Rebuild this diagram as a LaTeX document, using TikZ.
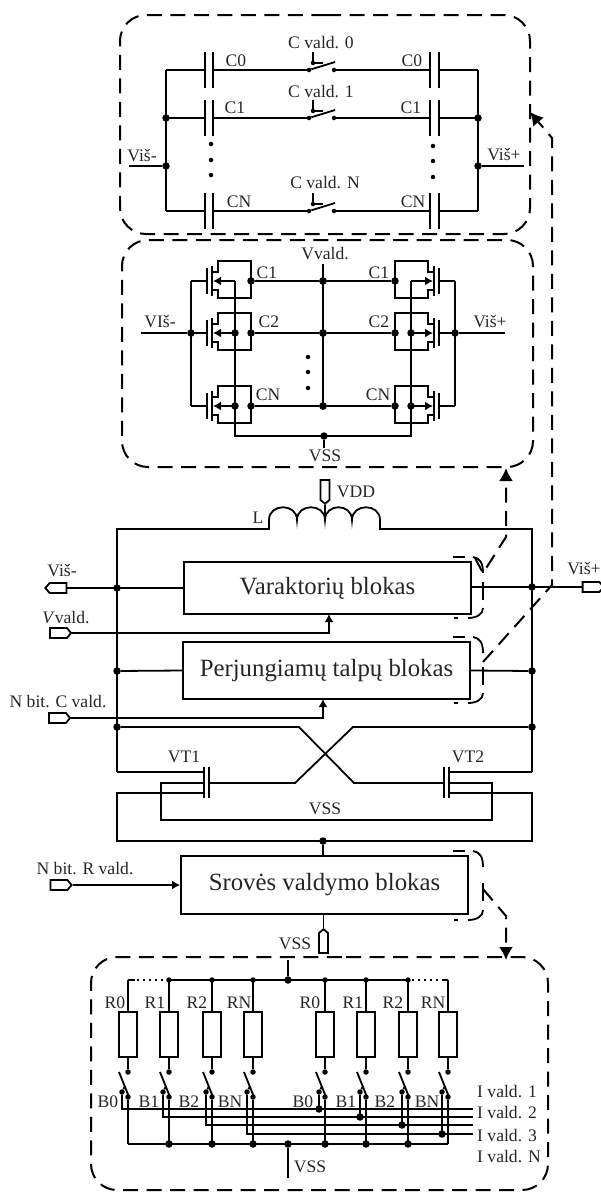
\documentclass[tikz,border=0pt]{standalone}
\usepackage{fontspec}
\setmainfont{Liberation Serif}
\usetikzlibrary{arrows.meta,shapes.symbols}
\tikzset{
  wire/.style={line width=1.8pt},
  dashline/.style={line width=2pt,dash pattern=on 15pt off 8.5pt},
  kabute/.style={line width=1.8pt},
  dot/.style={circle,fill=black,inner sep=0pt,minimum size=7.5pt},
  smalldot/.style={circle,fill=black,inner sep=0pt,minimum size=4.5pt},
  lbl/.style={inner sep=0pt,text=black!85,font=\fontsize{17.6}{18}\selectfont},
  blok/.style={draw,line width=1.8pt,inner sep=0pt,text=black!85,font=\fontsize{24.8}{26}\selectfont},
  port/.style={draw,line width=1.8pt,shape=signal,inner sep=0pt,minimum width=21pt,minimum height=10pt,signal pointer angle=100},
  vport/.style={draw,line width=1.8pt,shape=signal,inner sep=0pt,minimum width=9pt,minimum height=20pt,signal pointer angle=100},
  tip/.style={-{Latex[length=8pt,width=9pt]}},
  bigtip/.style={-{Latex[length=13pt,width=14pt]}}
}
\begin{document}
\begin{tikzpicture}[x=1pt,y=-1pt]
  \useasboundingbox (0,0) rectangle (601,1192);

  % capacitor panel
  \draw[dashline,rounded corners=26pt] (300,15) -- (530,15) -- (530,234) -- (120,234) -- (120,15) -- cycle;
  \foreach \n/\y in {0/70,1/118,N/211}{
    \coordinate (cl\n) at (166,\y);
    \coordinate (cr\n) at (478,\y);
    \node[smalldot] (sa\n) at (309,\y) {};
    \node[smalldot] (sb\n) at (334,\y) {};
    \draw[wire] (cl\n) -- (205,\y);
    \draw[wire] (205,\y-18) -- (205,\y+18);
    \draw[wire] (213,\y-18) -- (213,\y+18);
    \draw[wire] (213,\y) -- (sa\n);
    \draw[wire] (sa\n) -- (335,\y-8);
    \node[smalldot] (sc\n) at (313,\y-7) {};
    \draw[wire] (313,\y-18) -- (sc\n) -- (323,\y-7);
    \draw[wire] (sb\n) -- (430,\y);
    \draw[wire] (430,\y-18) -- (430,\y+18);
    \draw[wire] (439,\y-18) -- (439,\y+18);
    \draw[wire] (439,\y) -- (cr\n);
  }
  \node[dot] (cl1d) at (166,118) {};
  \node[dot] (cr1d) at (478,118) {};
  \node[dot] (clm) at (166,166) {};
  \node[dot] (crm) at (478,166) {};
  \draw[wire] (cl0) -- (clN);
  \draw[wire] (cr0) -- (crN);
  \draw[wire] (129,166) -- (clm);
  \draw[wire] (crm) -- (524,166);
  \node[lbl] (cv0) at (321,43) {C vald. 0};
  \node[lbl] (cv1) at (321,92) {C vald. 1};
  \node[lbl] (cvN) at (325,183) {C vald. N};
  \foreach \t/\xa/\xb/\y in {C0/236/412/61,C1/235/411/108,CN/239/413/202}{
    \node[lbl] (\t a) at (\xa,\y) {\t};
    \node[lbl] (\t b) at (\xb,\y) {\t};
  }
  \foreach \y in {144,160,175}
    \node[smalldot] (pa\y) at (211,\y) {};
  \foreach \y in {146,161,177}
    \node[smalldot] (pb\y) at (433,\y) {};
  \node[lbl] (cvm) at (142,156) {Viš-};
  \node[lbl] (cvp) at (504,155) {Viš+};

  % varactor panel
  \draw[dashline,rounded corners=26pt] (320,240) -- (533,240) -- (533,467) -- (122,467) -- (122,240) -- cycle;
  \foreach \sd/\sx/\sh in {a/1/0,b/-1/646}{
    \begin{scope}[xshift=\sh pt,xscale=\sx]
      \foreach \r/\y in {1/281,2/333,N/406}{
        \draw[wire] (191,\y) -- (207,\y);
        \draw[wire] (207,\y-13) -- (207,\y+13);
        \draw[wire] (212,\y-15) -- (212,\y+15);
        \draw[wire] (212,\y-9) -- (218,\y-9) -- (218,\y-20) -- (251,\y-20) -- (251,\y+17) -- (218,\y+17) -- (218,\y+9) -- (212,\y+9);
        \draw[wire,tip] (235,\y) -- (213,\y);
        \node[dot] (\sd l\r) at (251,\y) {};
        \node[dot] (\sd m\r) at (323,\y) {};
        \draw[wire] (\sd l\r) -- (\sd m\r);
      }
      \node[dot] (\sd g2) at (191,333) {};
      \node[dot] (\sd u2) at (235,333) {};
      \node[dot] (\sd uN) at (235,406) {};
      \draw[wire] (191,281) -- (191,406);
      \draw[wire] (235,281) -- (235,436) -- (323,436);
      \draw[wire] (141,333) -- (\sd g2);
    \end{scope}
  }
  \draw[wire] (323,264) -- (323,406);
  \node[dot] (vssd) at (324,436) {};
  \draw[wire] (vssd) -- (324,448);
  \node[lbl] (vvald) at (325,254) {Vvald.};
  \node[lbl] (vssa) at (325,456) {VSS};
  \node[lbl] (vim) at (160,322) {VIš-};
  \node[lbl] (vip) at (490,322) {Viš+};
  \foreach \t/\xa/\xb/\y in {C1/267/379/273,C2/269/379/322,CN/268/378/395}{
    \node[lbl] (v\t a) at (\xa,\y) {\t};
    \node[lbl] (v\t b) at (\xb,\y) {\t};
  }
  \foreach \y in {357,372,388}
    \node[smalldot] (pv\y) at (308,\y) {};

  % oscillator core
  \node[blok,minimum width=287pt,minimum height=52pt] (varblok) at (327.5,588) {Varaktorių blokas};
  \node[blok,minimum width=287pt,minimum height=57pt] (talpblok) at (326.5,670.5) {Perjungiamų talpų blokas};
  \node[blok,minimum width=287pt,minimum height=58pt] (srovblok) at (324.5,885) {Srovės valdymo blokas};

  \node[port,signal to=west] (pvm) at (58,588) {};
  \node[port,signal to=east] (pvv) at (58.5,633) {};
  \node[port,signal to=east] (pcv) at (57.5,718) {};
  \node[port,signal to=east] (prv) at (59,885) {};
  \node[port,signal to=east] (pvp) at (591,587) {};
  \node[vport,signal to=south] (pdd) at (325,490) {};
  \node[vport,signal to=north] (pss) at (323.5,943) {};

  \node[dot] (lmv) at (117,588) {};
  \node[dot] (lmt) at (117,671) {};
  \node[dot] (rmv) at (532,587) {};
  \node[dot] (rmt) at (532,671) {};
  \node[dot] (lcr) at (117,727) {};
  \node[dot] (rcr) at (532,727) {};
  \node[dot] (vsm) at (323,841) {};

  \draw[wire] (pvm.east) -- (varblok.west);
  \draw[wire] (varblok.east |- pvp) -- (pvp.west);
  \draw[wire] (lmt) -- (talpblok.west);
  \draw[wire] (talpblok.east) -- (rmt);
  \coordinate (va) at (329,614);
  \coordinate (ta) at (323,699);
  \draw[wire,tip] (pvv.east) -| (va);
  \draw[wire,tip] (pcv.east) -| (ta);
  \draw[wire,tip] (prv.east) -- (srovblok.west);
  \draw[wire] (vsm) -- (vsm |- srovblok.north);
  \draw[wire] (pss.north) -- (pss.north |- srovblok.south);

  % inductor
  \draw[wire] (117,772) -- (117,529) -- (269,529) -- (269,520)
    .. controls (269,503) and (297,503) .. (297,520)
    .. controls (297,503) and (325,503) .. (325,520)
    .. controls (325,503) and (352,503) .. (352,520)
    .. controls (352,503) and (380,503) .. (380,520)
    -- (380,529) -- (532,529) -- (532,772);
  \draw[wire] (pdd.south) -- (325,521);

  % cross coupled pair
  \draw[wire] (lcr) -- (299,727) -- (354,783) -- (444,783);
  \draw[wire] (rcr) -- (353,727) -- (295,783) -- (209,783);
  \draw[wire] (117,772) -- (204,772);
  \draw[wire] (532,772) -- (449,772);
  \draw[wire] (209,767) -- (209,798);
  \draw[wire] (204,767) -- (204,798);
  \draw[wire] (444,767) -- (444,798);
  \draw[wire] (449,767) -- (449,798);
  \draw[wire] (204,793) -- (117,793) -- (117,841) -- (532,841) -- (532,793) -- (449,793);
  \draw[wire] (204,783) -- (161,783) -- (161,820) -- (492,820) -- (492,783) -- (449,783);

  \node[lbl] (vddl) at (356,492) {VDD};
  \node[lbl] (ll) at (258,518) {L};
  \node[lbl] (vml) at (62,571) {Viš-};
  \node[lbl] (vvl) at (66,618) {\textit{V}vald.};
  \node[lbl] (ncl) at (58,702) {N bit. C vald.};
  \node[lbl] (vpl) at (584,569) {Viš+};
  \node[lbl] (vt1) at (184,757) {VT1};
  \node[lbl] (vt2) at (468,757) {VT2};
  \node[lbl] (vsc) at (325,809) {VSS};
  \node[lbl] (nrl) at (85,869) {N bit. R vald.};
  \node[lbl] (vsb) at (295,944) {VSS};

  % dashed outlines beside the blocks
  \foreach \t/\b/\m in {557/618/582,637/703/667,851/920/883}{
    \draw[kabute] (453,\t) -- (465,\t);
    \draw[kabute] (473,\t) .. controls (480,\t+1) and (483,\t+6) .. (483,\t+16);
    \draw[kabute] (483,\m) -- (483,\m+18);
    \draw[kabute] (483,\b-10) .. controls (483,\b-4) and (477,\b) .. (468,\b);
    \draw[kabute] (454,\b) -- (458,\b);
  }
  \draw[dashline,bigtip] (475,558) -- (483,573) -- (506,537) -- (506,468);
  \draw[dashline,bigtip] (483,662) -- (552,585) -- (552,138) -- (530,112);
  \draw[dashline,bigtip] (483,889) -- (506,916) -- (506,960);

  % current control panel
  \draw[dashline,rounded corners=26pt] (320,957) -- (548,957) -- (548,1190) -- (91,1190) -- (91,957) -- cycle;
  \node[dot] (itop) at (288,980) {};
  \node[dot] (ibot) at (288,1144) {};
  \draw[wire] (288,960) -- (itop);
  \draw[wire] (ibot) -- (288,1178);
  \draw[wire] (128,1144) -- (448,1144);
  \draw[wire] (128,980) -- (135,980);
  \draw[wire,dash pattern=on 2pt off 4pt] (137,980) -- (169,980);
  \draw[wire] (169,980) -- (408,980);
  \draw[wire,dash pattern=on 2pt off 4pt] (412,980) -- (442,980);
  \draw[wire] (442,980) -- (448,980);
  \foreach \i/\x/\by/\tr/\rx/\tb/\bx/\d in {
    a/128/1109/R0/115/B0/108/0,
    b/169/1117/R1/155/B1/149/0,
    c/212/1125/R2/197/B2/189/0,
    d/253/1134/RN/239/BN/230/0,
    e/325/1109/R0/310/B0/303/1,
    f/366/1117/R1/353/B1/346/1,
    g/408/1125/R2/393/B2/385/1,
    h/448/1134/RN/433/BN/427/1}{
    \node[draw,line width=1.8pt,minimum width=18pt,minimum height=45pt,inner sep=0pt] (r\i) at (\x,1034.5) {};
    \node[smalldot,minimum size=5.5pt] (q\i) at (\x,1072) {};
    \node[smalldot,minimum size=5.5pt] (w\i) at (\x,1097) {};
    \node[smalldot,minimum size=5.5pt] (k\i) at (\x-6,1092) {};
    \draw[wire] (\x,980) -- (r\i.north);
    \draw[wire] (r\i.south) -- (q\i);
    \draw[wire] (\x-9,1072) -- (\x+1,1097);
    \draw[wire] (w\i) -- (\x,1144);
    \draw[wire] (k\i) -- (\x-6,\by) -- (473,\by);
    \draw[wire] (k\i) -- (\x-3,1086);
    \node[lbl] (lr\i) at (\rx,1003) {\tr};
    \node[lbl] (lb\i) at (\bx,1102) {\tb};
    \ifnum\d=1
      \node[dot] (j\i) at (\x-6,\by) {};
    \fi
  }
  \foreach \x in {169,212,253,325,366,408}
    \node[dot] (n\x) at (\x,1144) {};
  \foreach \x in {169,212,253,325,366,408}
    \node[smalldot,minimum size=5.5pt] (u\x) at (\x,980) {};
  \node[lbl] (vsd) at (310,1167) {VSS};
  \node[lbl,anchor=west] (iv1) at (477,1092) {I vald. 1};
  \node[lbl,anchor=west] (iv2) at (477,1113) {I vald. 2};
  \node[lbl,anchor=west] (iv3) at (477,1136) {I vald. 3};
  \node[lbl,anchor=west] (ivN) at (477,1157) {I vald. N};
\end{tikzpicture}
\end{document}
